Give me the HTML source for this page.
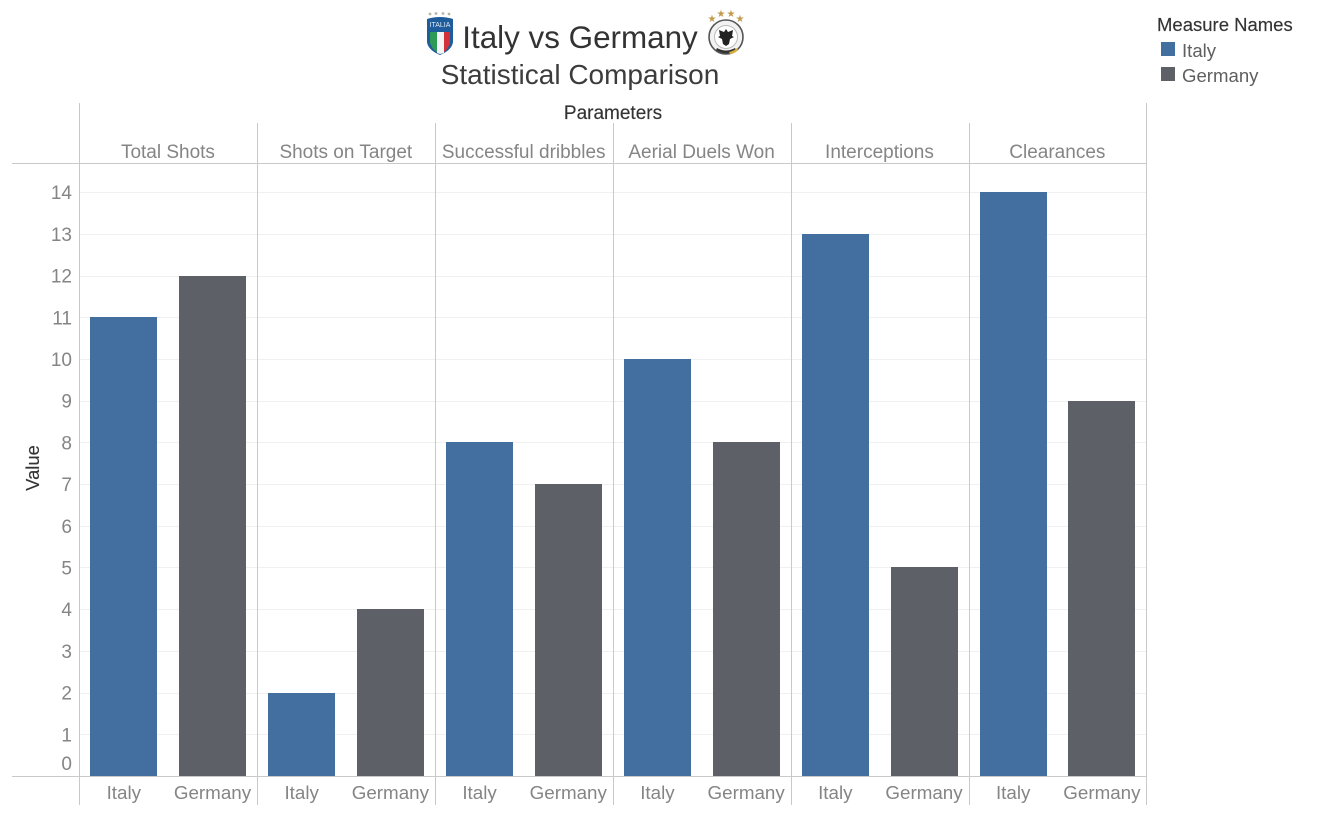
<!DOCTYPE html>
<html lang="en">
<head>
<meta charset="utf-8">
<title>Italy vs Germany Statistical Comparison</title>
<style>
html,body{margin:0;padding:0;background:#fff;width:1321px;height:815px;overflow:hidden}
svg{display:block}
text{font-family:"Liberation Sans",sans-serif}
.tick{font-size:19px;fill:#858585}
.medium{font-size:19px;fill:#333;stroke:#333;stroke-width:.15px}
</style>
</head>
<body>
<svg id="chart" width="1321" height="815" viewBox="0 0 1321 815" xmlns="http://www.w3.org/2000/svg">
  <g>
    <text x="580" y="48" text-anchor="middle" font-size="31.4" fill="#333">Italy vs Germany</text>
    <text x="580" y="84" text-anchor="middle" font-size="28" fill="#3c3c3c">Statistical Comparison</text>
  </g>
  <g>
    <g fill="#b9b5a5">
      <circle cx="430" cy="14" r="1.4"/><circle cx="436" cy="13.500" r="1.4"/><circle cx="443" cy="13.500" r="1.4"/><circle cx="449" cy="14" r="1.4"/>
    </g>
    <path d="M427 19 Q440 15 453 19 L453 42 Q452 50 440 55 Q428 50 427 42Z" fill="#1f5c9c"/>
    <path d="M430 32 H437 V52 Q432 49 430 43Z" fill="#2e9a58"/>
    <path d="M437 32 H444 V53 L440 54 L437 53Z" fill="#f4f4f4"/>
    <path d="M444 32 H450 V43 Q448 49 444 52Z" fill="#d3303a"/>
    <text x="440" y="27" text-anchor="middle" font-size="7" fill="#dfe8f2">ITALIA</text>
  </g>
  <g>
    <g fill="#c39a4c" font-size="10" text-anchor="middle">
      <text x="712" y="22">★</text><text x="721" y="17">★</text><text x="731" y="17">★</text><text x="740" y="22">★</text>
    </g>
    <circle cx="726" cy="37" r="17" fill="#f2f2f2" stroke="#555" stroke-width="1.600"/>
    <circle cx="726" cy="37" r="11.500" fill="#fff" stroke="#bbb" stroke-width="1"/>
    <path d="M726 29 l2 3 5-2-1 6 2 1-4 2-1 5-3 2-3-2-1-5-4-2 2-1-1-6 5 2Z" fill="#222"/>
    <path d="M716 50 Q726 57 736 50 L735 48 Q726 53 717 48Z" fill="#333"/>
    <path d="M729 52 Q734 51 737 48 L738 50 Q734 54 730 54Z" fill="#d9b13c"/>
  </g>

  <g>
    <text class="medium" x="1157" y="31" style="font-size:18.500px">Measure Names</text>
    <g>
      <rect x="1161" y="42" width="14" height="14" fill="#426f9f"/>
      <text x="1182" y="57" font-size="18.6" fill="#5f5f5f">Italy</text>
    </g>
    <g>
      <rect x="1161" y="67" width="14" height="14" fill="#5d6066"/>
      <text x="1182" y="82" font-size="18.6" fill="#5f5f5f">Germany</text>
    </g>
  </g>

  <text class="medium" x="613" y="119" text-anchor="middle">Parameters</text>
  <text class="medium" transform="translate(39,468) rotate(-90)" text-anchor="middle" style="font-size:18.400px">Value</text>

  <g id="grid"></g>
  <g id="bars"></g>
  <g id="frame"></g>
  <g id="yticks"></g>
  <g id="headers"></g>
  <g id="xlabels"></g>
</svg>
<script>
const parameters = ['Total Shots', 'Shots on Target', 'Successful dribbles', 'Aerial Duels Won', 'Interceptions', 'Clearances'];
const teams = ['Italy', 'Germany'];
const italyValues = [11, 2, 8, 10, 13, 14];
const germanyValues = [12, 4, 7, 8, 5, 9];
const yTicks = [0, 1, 2, 3, 4, 5, 6, 7, 8, 9, 10, 11, 12, 13, 14];

const NS = 'http://www.w3.org/2000/svg';
const plotLeft = 79.5, panelWidth = 177.88, baseY = 775.95, unitY = 41.7;
const teamColors = ['#426f9f', '#5d6066'];
const barOffsets = [10.8, 99.5];
const barWidth = 67;
const yScale = v => baseY - v * unitY;
const panelX = i => plotLeft + i * panelWidth;

function make(tag, parent, attrs, txt) {
  const el = document.createElementNS(NS, tag);
  for (const k in attrs) el.setAttribute(k, attrs[k]);
  if (txt !== undefined) el.textContent = txt;
  parent.appendChild(el);
  return el;
}
const grid = document.getElementById('grid');
const bars = document.getElementById('bars');
const frame = document.getElementById('frame');
const yt = document.getElementById('yticks');
const headers = document.getElementById('headers');
const xl = document.getElementById('xlabels');

yTicks.forEach(v => {
  if (v !== 0) {
    const g = make('line', grid, {x1: plotLeft, x2: 1146, y1: Math.round(yScale(v)) + .5, y2: Math.round(yScale(v)) + .5, stroke: '#f0f0f0', 'stroke-width': 1});
    
    
  }
  const t = make('text', yt, {class: 'tick', x: 72, y: v === 0 ? 770 : yScale(v) + 7, 'text-anchor': 'end'}, String(v));
  
  
});

parameters.forEach((p, i) => {
  const x0 = panelX(i);
  const h = make('text', headers, {x: x0 + panelWidth / 2 - .5, y: 158, 'text-anchor': 'middle', 'font-size': 19, fill: '#858585'}, p);
  
  
  [italyValues[i], germanyValues[i]].forEach((v, j) => {
    const top = Math.round(yScale(v));
    const bottom = Math.round(yScale(0));
    const r = make('rect', bars, {x: Math.round(x0 + barOffsets[j]), y: top, width: barWidth, height: bottom - top, fill: teamColors[j]});
    
    
    const l = make('text', xl, {x: x0 + barOffsets[j] + barWidth / 2, y: 799, 'text-anchor': 'middle', 'font-size': 18.8, fill: '#858585'}, teams[j]);
    
    
  });
});

for (let i = 0; i <= parameters.length; i++) {
  const x = Math.round(panelX(i) - .3) + .5;
  const outer = i === 0 || i === parameters.length;
  const v = make('line', frame, {x1: x, x2: x, y1: outer ? 103 : 123, y2: 805, stroke: '#c9c9c9', 'stroke-width': 1});
  
  
}
[163.5, 776.5].forEach(y => {
  const h = make('line', frame, {x1: 12, x2: 1146, y1: y, y2: y, stroke: '#c9c9c9', 'stroke-width': 1});
  
  
});
</script>
</body>
</html>
